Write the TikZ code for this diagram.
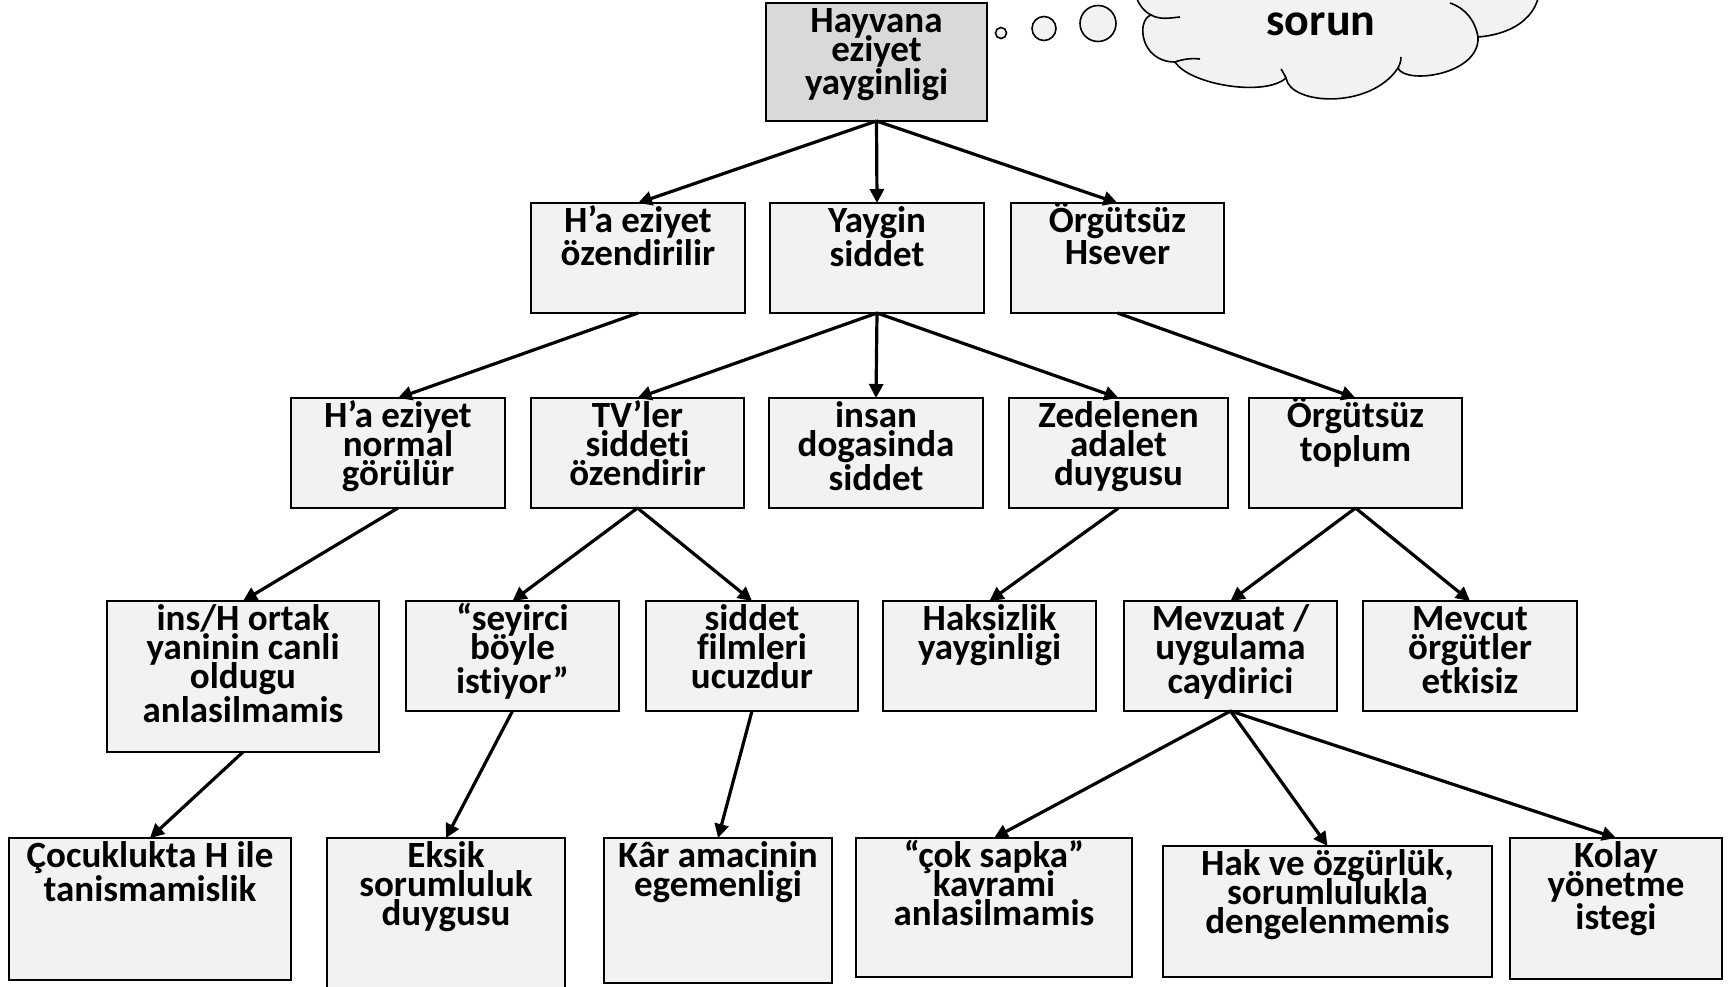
\documentclass[tikz,border=0pt]{standalone}
\usepackage{fontspec}
\setmainfont{Carlito}[RawFeature={-liga}]
\usetikzlibrary{arrows.meta}
\definecolor{boxfill}{HTML}{F2F2F2}
\definecolor{topfill}{HTML}{D9D9D9}
\newcommand\mybox[6]{%
  \node[box, minimum width=#4, minimum height=#5] (#1) at (#2,#3) {};
  \node[txt] (#1-t) at ([yshift=-14.5pt]#1.north) {\lineskiplimit=-50pt\relax #6};}
\begin{document}
\begin{tikzpicture}[x=0.5pt,y=-0.5pt,
  box/.style={draw=black, line width=0.8pt, fill=boxfill, inner sep=0pt, outer sep=0pt},
  txt/.style={inner sep=0pt, align=flush center, text width=170pt, anchor=base,
    font=\fontsize{18.5}{14.6}\selectfont\bfseries},
  arr/.style={-{Triangle[length=7pt,width=7pt]}, line width=1.6pt}]
\useasboundingbox (0,0) rectangle (1728,986);
\clip (0,0) rectangle (1728,986);
% cloud
\draw[line width=0.8pt, fill=boxfill]
  (1150,-30) .. controls (1128,-25) and (1132,5) .. (1151,15)
  .. controls (1136,20) and (1140,62) .. (1175,62)
  .. controls (1190,85) and (1265,97) .. (1286,78)
  .. controls (1290,105) and (1370,110) .. (1398,68)
  .. controls (1405,85) and (1480,75) .. (1478,37)
  .. controls (1505,35) and (1542,22) .. (1540,-20)
  -- (1540,-30) -- cycle;
\draw[line width=0.8pt] (1151,15) .. controls (1160,20) and (1170,18) .. (1180,17);
\draw[line width=0.8pt] (1175,62) .. controls (1183,59) and (1192,58) .. (1200,59);
\draw[line width=0.8pt] (1286,78) .. controls (1284,74) and (1283,72) .. (1281,69);
\draw[line width=0.8pt] (1398,68) .. controls (1400,64) and (1401,61) .. (1401,57);
\draw[line width=0.8pt] (1478,37) .. controls (1475,20) and (1465,8) .. (1450,3);
\node[inner sep=0pt, anchor=base, font=\fontsize{23}{26}\selectfont\bfseries] (sorun) at (1321,35) {sorun};
% thought bubbles
\draw[line width=0.8pt, fill=boxfill] (1001,33) circle [radius=2.75pt];
\draw[line width=0.8pt, fill=boxfill] (1044,28.5) circle [radius=6pt];
\draw[line width=0.8pt, fill=boxfill] (1098,23.5) circle [radius=9pt];
% top
\node[box, fill=topfill, minimum width=110.5pt, minimum height=59pt] (top) at (876.5,62) {};
\node[txt] (top-t) at ([yshift=-14.5pt]top.north) {\lineskiplimit=-50pt\relax Hayvana\\eziyet\\yayginligi};
% level 2
\mybox{a1}{638}{258}{107pt}{55pt}{H’a eziyet\\özendirilir}
\mybox{a2}{877}{258}{107pt}{55pt}{Yaygin\\siddet}
\mybox{a3}{1117.5}{258}{106.5pt}{55pt}{Örgütsüz\\Hsever}
% level 3
\mybox{b1}{398}{453}{107pt}{55pt}{H’a eziyet\\normal\\görülür}
\mybox{b2}{637.5}{453}{106.5pt}{55pt}{TV’ler\\siddeti\\özendirir}
\mybox{b3}{876}{453}{107pt}{55pt}{insan\\dogasinda\\siddet}
\mybox{b4}{1118.5}{453}{109.5pt}{55pt}{Zedelenen\\adalet\\duygusu}
\mybox{b5}{1355.5}{453}{106.5pt}{55pt}{Örgütsüz\\toplum}
% level 4
\mybox{c1}{243}{676.5}{136pt}{75.5pt}{ins/H ortak\\yaninin canli\\oldugu\\anlasilmamis}
\mybox{c2}{512.5}{656}{106.5pt}{55pt}{“seyirci\\böyle\\istiyor”}
\mybox{c3}{752}{656}{106pt}{55pt}{siddet\\filmleri\\ucuzdur}
\mybox{c4}{989.5}{656}{106.5pt}{55pt}{Haksizlik\\yayginligi}
\mybox{c5}{1230.5}{656}{106.5pt}{55pt}{Mevzuat /\\uygulama\\caydirici}
\mybox{c6}{1470}{656}{107pt}{55pt}{Mevcut\\örgütler\\etkisiz}
% level 5
\mybox{d1}{150}{909}{141pt}{71pt}{Çocuklukta H ile\\tanismamislik}
\mybox{d2}{446}{915}{119pt}{77pt}{Eksik\\sorumluluk\\duygusu}
\mybox{d3}{718}{910.5}{114pt}{72.5pt}{Kâr amacinin\\egemenligi}
\mybox{d4}{994}{907.5}{138pt}{69.5pt}{“çok sapka”\\kavrami\\anlasilmamis}
\mybox{d5}{1327.5}{911.5}{164.5pt}{65.5pt}{Hak ve özgürlük,\\sorumlulukla\\dengelenmemis}
\mybox{d6}{1616}{908.5}{106pt}{70.5pt}{Kolay\\yönetme\\istegi}
% connectors
\draw[arr] (top.south) -- (a1.north);
\draw[arr] (top.south) -- (a2.north);
\draw[arr] (top.south) -- (a3.north);
\draw[arr] (a1.south) -- (b1.north);
\draw[arr] (a2.south) -- (b2.north);
\draw[arr] (a2.south) -- (b3.north);
\draw[arr] (a2.south) -- (b4.north);
\draw[arr] (a3.south) -- (b5.north);
\draw[arr] (b1.south) -- (c1.north);
\draw[arr] (b2.south) -- (c2.north);
\draw[arr] (b2.south) -- (c3.north);
\draw[arr] (b4.south) -- (c4.north);
\draw[arr] (b5.south) -- (c5.north);
\draw[arr] (b5.south) -- (c6.north);
\draw[arr] (c1.south) -- (d1.north);
\draw[arr] (c2.south) -- (d2.north);
\draw[arr] (c3.south) -- (d3.north);
\draw[arr] (c5.south) -- (d4.north);
\draw[arr] (c5.south) -- (d5.north);
\draw[arr] (c5.south) -- (d6.north);
\end{tikzpicture}
\end{document}
